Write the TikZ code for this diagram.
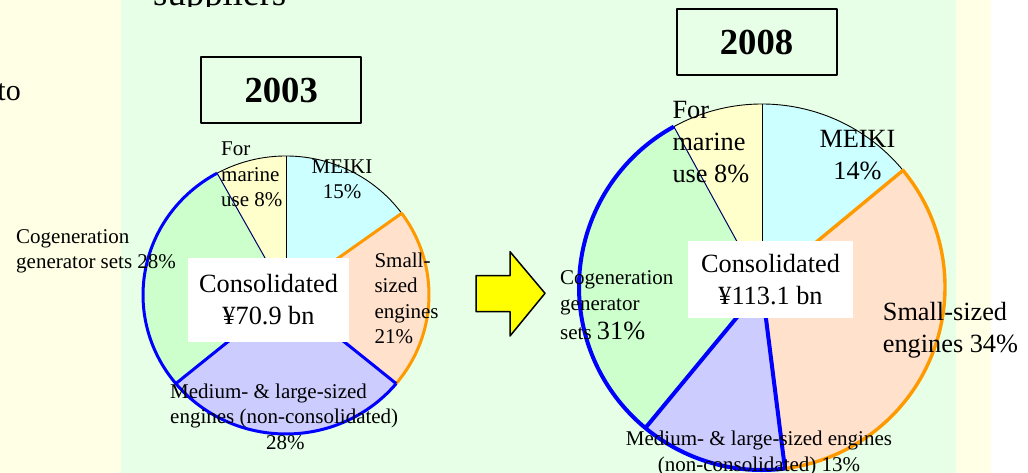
\documentclass[tikz,border=0pt]{standalone}
\usepackage{fontspec}
\setmainfont{Liberation Serif}
\definecolor{bgyellow}{HTML}{FFFFE6}
\definecolor{bggreen}{HTML}{E6FFE6}
\definecolor{cMeiki}{HTML}{CCFFFF}
\definecolor{cSmall}{HTML}{FFE1CC}
\definecolor{cMedium}{HTML}{CCCCFF}
\definecolor{cCogen}{HTML}{CCFFCC}
\definecolor{cMarine}{HTML}{FFFFCC}
\definecolor{cOrange}{HTML}{FF9900}
\definecolor{cBlue}{HTML}{0000FF}
\definecolor{cArrow}{HTML}{FFFF00}
\begin{document}
\begin{tikzpicture}[x=1pt,y=1pt,line join=round,
  lbl/.style={inner sep=0pt, font=\fontsize{21}{25.5}\selectfont, align=left},
  biglbl/.style={inner sep=0pt, font=\fontsize{26.3}{32}\selectfont, align=left},
  yearbox/.style={draw=black, line width=2pt, minimum width=160pt, minimum height=66pt, inner sep=0pt, font=\fontsize{36.7}{40}\selectfont\bfseries},
  totalbox/.style={fill=white, inner sep=0pt, font=\fontsize{26.3}{32}\selectfont, align=center},
  sliceedge/.style={line width=0.9pt, black},
  marineedge/.style={line width=1pt, blue!40!black},
  orangeedge/.style={line width=#1, cOrange},
  blueedge/.style={line width=#1, cBlue},
  bigtext/.style={inner sep=0pt, font=\fontsize{36.8}{40}\selectfont},
  ea/.style={x radius=143, y radius=139},
]
\useasboundingbox (0,0) rectangle (1028,473);
% backgrounds
\fill[bgyellow] (0,0) rectangle (121,473);
\fill[bggreen] (121,0) rectangle (955.7,473);
\fill[bgyellow] (955.7,0) rectangle (990.7,473);
\fill[white] (990.7,0) rectangle (1028,473);

% partial texts
\begin{scope}
  \clip (121,466.5) rectangle (400,473);
  \node[bigtext, anchor=base west] (sup) at (153,467) {suppliers};
\end{scope}
\node[inner sep=0pt, font=\fontsize{30}{34}\selectfont, anchor=base east] (to) at (21,372) {to};

% ---------- 2003 pie ----------
\coordinate (c1) at (286,178);
\fill[cMeiki]  (c1) -- ++(90:143 and 139) arc[start angle=90, end angle=36, ea] -- cycle;
\fill[cSmall]  (c1) -- ++(36:143 and 139) arc[start angle=36, end angle=-39.6, ea] -- cycle;
\fill[cMedium] (c1) -- ++(-39.6:143 and 139) arc[start angle=-39.6, end angle=-140.4, ea] -- cycle;
\fill[cCogen]  (c1) -- ++(-140.4:143 and 139) arc[start angle=-140.4, end angle=-241.2, ea] -- cycle;
\fill[cMarine] (c1) -- ++(118.8:143 and 139) arc[start angle=118.8, end angle=90, ea] -- cycle;
\draw[sliceedge] (c1) ++(118.8:143 and 139) arc[start angle=118.8, end angle=36, ea];
\draw[sliceedge] (c1) -- ++(90:143 and 139);
\draw[marineedge] (c1) -- ++(118.8:143 and 139);
\draw[orangeedge=3pt] (c1) -- ++(36:143 and 139) arc[start angle=36, end angle=-39.6, ea];
\draw[blueedge=3pt] (c1) ++(-39.6:143 and 139) -- (c1) -- ++(-140.4:143 and 139);
\draw[blueedge=3pt] (c1) ++(-39.6:143 and 139) arc[start angle=-39.6, end angle=-241.2, ea];

\node[totalbox, minimum width=161pt, minimum height=84pt] (tot1) at (268.5,173) {Consolidated\\¥70.9 bn};
\node[lbl, anchor=north west] (mar1) at (221,331.3) {For\\marine\\use 8\%};
\node[lbl, anchor=north, align=center] (mei1) at (342,313.7) {MEIKI\\15\%};
\node[lbl, anchor=north west] (sma1) at (374.3,220.7) {Small-\\sized\\engines\\21\%};
\node[lbl, anchor=north west] (cog1) at (16,243.7) {Cogeneration\\generator sets 28\%};
\node[lbl, anchor=north west] (med1) at (170,89.7) {Medium- \& large-sized\\engines (non-consolidated)\\\hspace*{96pt}28\%};
\node[yearbox] (y1) at (281.2,382.7) {2003};

% ---------- arrow ----------
\draw[line width=1.5pt, fill=cArrow] (476,197.3) -- (510,197.3) -- (510,221.3) -- (545,179.7) -- (510,137) -- (510,161.3) -- (476,161.3) -- cycle;

% ---------- 2008 pie ----------
\coordinate (c2) at (762,186);
\fill[cMeiki]  (c2) -- ++(90:183) arc[start angle=90, end angle=39.6, radius=183] -- cycle;
\fill[cSmall]  (c2) -- ++(39.6:183) arc[start angle=39.6, end angle=-82.8, radius=183] -- cycle;
\fill[cMedium] (c2) -- ++(-82.8:183) arc[start angle=-82.8, end angle=-129.6, radius=183] -- cycle;
\fill[cCogen]  (c2) -- ++(-129.6:183) arc[start angle=-129.6, end angle=-241.2, radius=183] -- cycle;
\fill[cMarine] (c2) -- ++(118.8:183) arc[start angle=118.8, end angle=90, radius=183] -- cycle;
\draw[sliceedge] (c2) ++(118.8:183) arc[start angle=118.8, end angle=39.6, radius=183];
\draw[sliceedge] (c2) -- ++(90:183);
\draw[marineedge] (c2) -- ++(118.8:183);
\draw[orangeedge=3.4pt] (c2) -- ++(39.6:183) arc[start angle=39.6, end angle=-82.8, radius=183];
\draw[blueedge=4pt] (c2) ++(-82.8:183) -- (c2) -- ++(-129.6:183);
\draw[blueedge=4pt] (c2) ++(-82.8:183) arc[start angle=-82.8, end angle=-241.2, radius=183];

\node[totalbox, minimum width=164.4pt, minimum height=77.3pt] (tot2) at (770.5,193.3) {Consolidated\\¥113.1 bn};
\node[biglbl, anchor=north west] (mar2) at (672.3,372) {For\\marine\\use 8\%};
\node[biglbl, anchor=north, align=center] (mei2) at (857.5,343) {MEIKI\\14\%};
\node[biglbl, anchor=north west] (sma2) at (882.7,171.3) {Small-sized\\engines 34\%};
\node[lbl, anchor=north west] (cog2) at (560,202.3) {Cogeneration\\generator\\[4pt]sets {\fontsize{26.3}{32}\selectfont 31\%}};
\node[lbl, anchor=north, align=center] (med2) at (759,42) {Medium- \& large-sized engines\\(non-consolidated) 13\%};
\node[yearbox] (y2) at (756.5,430.5) {2008};
\end{tikzpicture}
\end{document}
